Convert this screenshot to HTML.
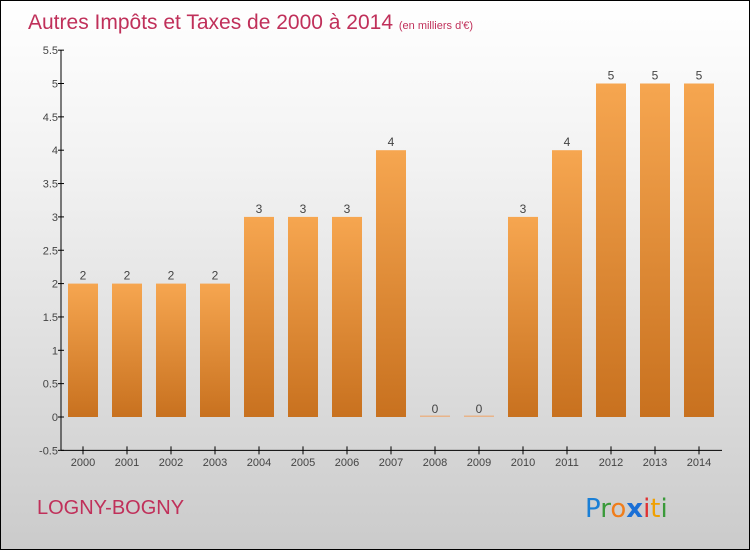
<!DOCTYPE html>
<html><head><meta charset="utf-8"><style>
body{margin:0}
#c{position:relative;width:748px;height:548px;border:1px solid #000;background:linear-gradient(#fff,#f2f2f2 30%,#d9d9d9 75%,#cbcbcb);overflow:hidden;font-family:"Liberation Sans",sans-serif}
</style></head><body>
<div id="c">
<svg width="748" height="548">
<defs><linearGradient id="g" x1="0" y1="0" x2="0" y2="1"><stop offset="0" stop-color="#f6a650"/><stop offset="1" stop-color="#c8711f"/></linearGradient></defs>
<text x="27" y="28" font-size="21" fill="#c0305a">Autres Impôts et Taxes de 2000 à 2014 <tspan font-size="11">(en milliers d'€)</tspan></text>
<g id="plot"></g>
<text x="36" y="513" font-size="20" fill="#c0305a">LOGNY-BOGNY</text>
<text x="584" y="516" font-size="26" font-family="'DejaVu Sans',sans-serif"><tspan fill="#1a7fd6">P</tspan><tspan fill="#3a9a3a">r</tspan><tspan fill="#f07d1a">o</tspan><tspan fill="#1a6fd6" font-weight="bold">x</tspan><tspan fill="#e03030">i</tspan><tspan fill="#f0a000">t</tspan><tspan fill="#3a9a3a">i</tspan></text>
</svg>
</div>
<script>
const years=[2000,2001,2002,2003,2004,2005,2006,2007,2008,2009,2010,2011,2012,2013,2014];
const values=[2,2,2,2,3,3,3,4,0,0,3,4,5,5,5];
const yTicks=[-0.5,0,0.5,1,1.5,2,2.5,3,3.5,4,4.5,5,5.5];
const ns="http://www.w3.org/2000/svg";
const g=document.getElementById('plot');
const y=v=>416-v*66.7;
const x=i=>82+i*44;
function mk(t,a){const e=document.createElementNS(ns,t);for(const k in a)e.setAttribute(k,a[k]);g.appendChild(e);return e;}
let ax=mk('line',{x1:60,y1:y(5.5),x2:60,y2:y(-0.5),stroke:'#000'});


let xa=mk('line',{x1:60,y1:y(-0.5),x2:721,y2:y(-0.5),stroke:'#000'});


yTicks.forEach(t=>{
 mk('line',{x1:57,x2:63,y1:y(t),y2:y(t),stroke:'#000'});
 const l=mk('text',{x:57,y:y(t)+4,'font-size':11,'text-anchor':'end',fill:'#444'});l.textContent=String(t);
 
 
});
years.forEach((yr,i)=>{
 const v=values[i];
 mk('line',{x1:x(i),x2:x(i),y1:y(-0.5)-4,y2:y(-0.5)+4,stroke:'#000'});
 const l=mk('text',{x:x(i),y:465,'font-size':11,'text-anchor':'middle',fill:'#444'});l.textContent=yr;
 
 
 const h=Math.max(y(0)-y(v),1.5);
 const b=mk('rect',{x:x(i)-15,y:y(0)-h,width:30,height:h,fill:v>0?'url(#g)':'#e8b48a'});
 
 
 const vl=mk('text',{x:x(i),y:y(v)-4,'font-size':12,'text-anchor':'middle',fill:'#444'});vl.textContent=v;
 
 
});
</script>
</body></html>
